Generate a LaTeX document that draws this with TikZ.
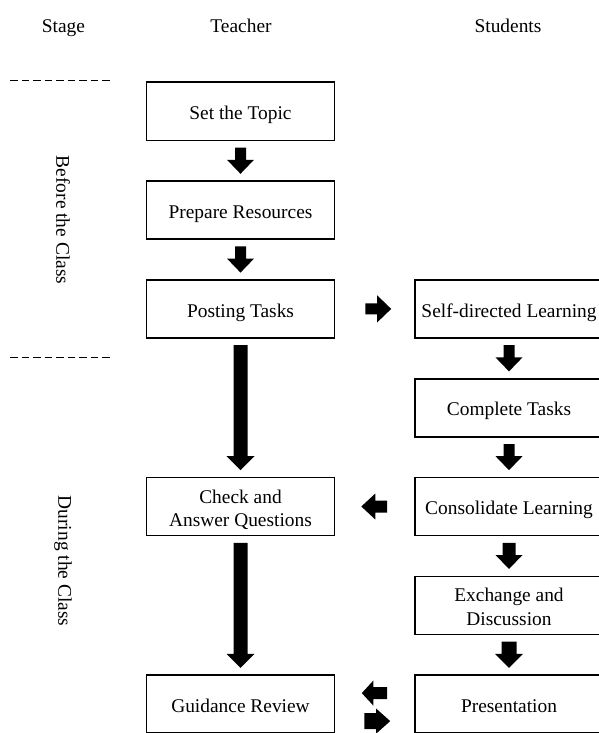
\documentclass[tikz,border=0pt]{standalone}
\usepackage{fontspec}
\setmainfont{Liberation Serif}
\usetikzlibrary{calc}
\newcommand\st{\rule[-4.3pt]{0pt}{25pt}}
\newcommand\myfont{\fontsize{19.4}{23.4}\selectfont\lineskiplimit=-50pt\relax}
\newcommand\dnarrow[5]{% from, to, shaft half, head half, head length
  \fill ($(#1.south)+(-#3,6.5)$) -- ($(#1.south)+(#3,6.5)$)
    -- ($(#2.north)+(#3,-6.5-#5)$) -- ($(#2.north)+(#4,-6.5-#5)$)
    -- ($(#2.north)+(0,-6.5)$) -- ($(#2.north)+(-#4,-6.5-#5)$)
    -- ($(#2.north)+(-#3,-6.5-#5)$) -- cycle;}
\newcommand\hzarrow[5]{% tail, tip, shaft half, head half, head base dx
  \fill ($(#1)+(0,-#3)$) -- ($(#2)+(#5,-#3)$) -- ($(#2)+(#5,-#4)$)
    -- (#2) -- ($(#2)+(#5,#4)$) -- ($(#2)+(#5,#3)$) -- ($(#1)+(0,#3)$) -- cycle;}
\begin{document}
\begin{tikzpicture}[x=1pt,y=-1pt,
  txt/.style={font=\myfont, inner sep=0pt},
  box/.style={txt, draw, line width=1.6pt, minimum width=188pt,
    minimum height=58pt, align=center},
  sep/.style={line width=1.5pt, dash pattern=on 7.5pt off 4pt}]
\useasboundingbox (0,0) rectangle (598,733);
\fill[white] (0,0) rectangle (598,733);
% headers
\node[txt] (hstage) at (63.5,24) {\st Stage};
\node[txt] (hteach) at (241,24) {\st Teacher};
\node[txt] (hstud) at (508,24) {\st Students};
% stage separators
\coordinate (d1a) at (10,80.5);
\coordinate (d1b) at (110,80.5);
\coordinate (d2a) at (10,357.5);
\coordinate (d2b) at (113,357.5);
\draw[sep] (d1a) -- (d1b);
\draw[sep] (d2a) -- (d2b);
% stage labels
\node[txt, rotate=-90] (before) at (63,220) {Before the Class};
\node[txt, rotate=-90] (during) at (63,561) {During the Class};
% teacher boxes
\node[box] (topic) at (240.5,111.3) {\st Set the Topic};
\node[box] (prep) at (240.5,210.1) {\st Prepare Resources};
\node[box] (post) at (240.5,308.9) {\st Posting Tasks};
\node[box] (check) at (240.5,506.5) {\st Check and\\\st Answer Questions};
\node[box] (guide) at (240.5,704.1) {\st Guidance Review};
% student boxes
\node[box] (self) at (509,308.9) {\st Self-directed Learning};
\node[box] (comp) at (509,407.7) {\st Complete Tasks};
\node[box] (cons) at (509,506.5) {\st Consolidate Learning};
\node[box] (exch) at (509,605.3) {\st Exchange and\\\st Discussion};
\node[box] (pres) at (509,704.1) {\st Presentation};
% vertical block arrows
\dnarrow{topic}{prep}{5.5}{13.5}{14}
\dnarrow{prep}{post}{5.5}{13.5}{14}
\dnarrow{post}{check}{7}{14}{14}
\dnarrow{check}{guide}{7}{14}{14}
\dnarrow{self}{comp}{5.5}{13.5}{14}
\dnarrow{comp}{cons}{5.5}{13.5}{14}
\dnarrow{cons}{exch}{6.5}{13.5}{14}
\dnarrow{exch}{pres}{7.5}{14}{14}
% horizontal block arrows
\coordinate (a1t) at ($(post.east)+(30,0)$);
\coordinate (a1p) at ($(self.west)+(-23,0)$);
\hzarrow{a1t}{a1p}{5.5}{13.5}{-14}
\coordinate (a2t) at ($(cons.west)+(-27,0)$);
\coordinate (a2p) at ($(check.east)+(26,0)$);
\hzarrow{a2t}{a2p}{6}{13}{14}
\coordinate (a3t) at ($(pres.west)+(-27,-11)$);
\coordinate (a3p) at ($(guide.east)+(26.5,-11)$);
\hzarrow{a3t}{a3p}{6}{12.5}{11.5}
\coordinate (a4t) at ($(guide.east)+(29,17)$);
\coordinate (a4p) at ($(pres.west)+(-24,17)$);
\hzarrow{a4t}{a4p}{8}{12.5}{-14}
\end{tikzpicture}
\end{document}
